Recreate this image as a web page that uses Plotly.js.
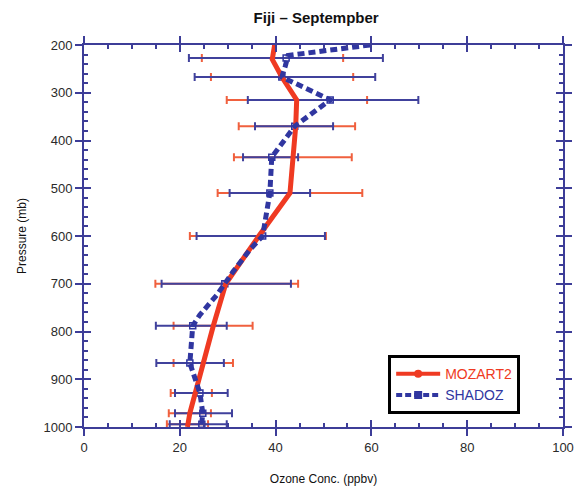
<!DOCTYPE html>
<html>
<head>
<meta charset="utf-8">
<script src="https://cdn.plot.ly/plotly-3.0.1.min.js"></script>
<style>
  html, body { margin: 0; padding: 0; background: #ffffff; }
  #chart { width: 579px; height: 496px; }
</style>
</head>
<body>
<div id="chart"></div>
<script>
// Ozone profiles over Fiji in September: model (MOZART2) vs sondes (SHADOZ)

// Continuous profiles (pressure in mb, ozone in ppbv)
const mozPressure = [200, 230, 267, 315, 370, 435, 510, 600, 700, 788, 866, 929, 971, 994, 1000];
const mozOzone    = [39.8, 39.3, 41.3, 44.4, 44.2, 43.6, 43.0, 36.5, 29.6, 27.0, 24.9, 23.1, 22.1, 21.7, 21.6];

const shaPressure = [200, 222, 245, 267, 315, 370, 435, 510, 600, 629, 675, 700, 724, 765, 788, 866, 916, 929, 971, 994, 1000];
const shaOzone    = [59.7, 42.6, 42.0, 41.3, 51.4, 44.0, 39.2, 38.8, 37.3, 34.6, 31.1, 29.4, 27.7, 24.2, 22.7, 22.1, 23.7, 24.2, 24.8, 24.6, 24.5];

// Levels carrying variability bars
const levels  = [227, 267, 315, 370, 435, 510, 600, 700, 788, 866, 929, 971, 994];
const mozMean = [39.5, 41.3, 44.4, 44.2, 43.6, 43.0, 36.5, 29.6, 27.0, 24.9, 23.1, 22.1, 21.7];
const mozLow  = [24.6, 26.5, 29.8, 32.3, 31.3, 27.9, 22.1, 14.9, 18.7, 18.7, 18.1, 17.7, 17.3];
const mozHigh = [54.1, 56.2, 59.1, 56.6, 55.9, 58.1, 50.5, 44.7, 35.2, 31.1, 26.7, 26.5, 25.9];
const shaMean = [42.2, 41.3, 51.4, 44.0, 39.2, 38.8, 37.3, 29.4, 22.7, 22.1, 24.2, 24.8, 24.6];
const shaLow  = [21.9, 23.1, 34.2, 35.7, 33.2, 30.4, 23.5, 16.2, 15.0, 15.1, 19.0, 19.0, 17.9];
const shaHigh = [62.4, 60.8, 69.8, 52.0, 44.7, 47.2, 50.3, 43.2, 29.8, 29.2, 30.0, 30.9, 29.8];

const tickVals = [0, 20, 40, 60, 80, 100];
const pressureTicks = [200, 300, 400, 500, 600, 700, 800, 900, 1000];

const RED = '#ef3a22';
const BLUE = '#3036a0';
const AXIS = '#3d3d98';
const FONT = 'Liberation Sans, Arial, sans-serif';

const plus  = (hi, c) => hi.map((v, i) => v - c[i]);
const minus = (lo, c) => lo.map((v, i) => c[i] - v);

const traces = [
  // legend entries (on the labelled base axes)
  {
    x: [null], y: [null], type: 'scatter', mode: 'lines+markers',
    name: '<span style="color:' + RED + '">MOZART2</span>',
    line: { color: RED, width: 4 }, marker: { symbol: 'circle', size: 8, color: RED }
  },
  {
    x: [null], y: [null], type: 'scatter', mode: 'lines+markers',
    name: '<span style="color:' + BLUE + '">SHADOZ</span>',
    line: { color: BLUE, width: 4, dash: '6px,3px' }, marker: { symbol: 'square', size: 8, color: BLUE }
  },
  {
    x: mozMean, y: levels, xaxis: 'x2', yaxis: 'y2',
    type: 'scatter', mode: 'markers', showlegend: false, hoverinfo: 'skip',
    marker: { symbol: 'circle', size: 4, color: RED },
    error_x: { type: 'data', symmetric: false,
      array: plus(mozHigh, mozMean), arrayminus: minus(mozLow, mozMean),
      color: '#f0603e', thickness: 2, width: 4 }
  },
  {
    x: shaMean, y: levels, xaxis: 'x2', yaxis: 'y2',
    type: 'scatter', mode: 'markers', showlegend: false, hoverinfo: 'skip',
    marker: { symbol: 'square-open', size: 6, color: BLUE, line: { width: 1.5, color: BLUE } },
    error_x: { type: 'data', symmetric: false,
      array: plus(shaHigh, shaMean), arrayminus: minus(shaLow, shaMean),
      color: '#40419c', thickness: 2, width: 4 }
  },
  {
    x: mozOzone, y: mozPressure, xaxis: 'x2', yaxis: 'y2',
    type: 'scatter', mode: 'lines', showlegend: false, hoverinfo: 'skip',
    line: { color: RED, width: 5 }
  },
  {
    x: shaOzone, y: shaPressure, xaxis: 'x2', yaxis: 'y2',
    type: 'scatter', mode: 'lines', showlegend: false, hoverinfo: 'skip',
    line: { color: BLUE, width: 5, dash: '7px,4px' }
  }
];

const baseX = {
  range: [0, 100], tickvals: tickVals, ticktext: tickVals.map(String),
  ticks: 'outside', ticklen: 7, tickwidth: 2, tickcolor: AXIS,
  showline: true, linecolor: AXIS, linewidth: 2, mirror: 'ticks',
  showgrid: false, zeroline: false, fixedrange: true,
  tickfont: { family: FONT, size: 13, color: '#2a2a2a' },
  title: { text: 'Ozone Conc. (ppbv)', font: { family: FONT, size: 12, color: '#111' }, standoff: 21 }
};
const baseY = {
  range: [1000, 200], tickvals: pressureTicks, ticktext: pressureTicks.map(String),
  ticks: 'outside', ticklen: 7, tickwidth: 2, tickcolor: AXIS,
  showline: true, linecolor: AXIS, linewidth: 2, mirror: 'ticks',
  showgrid: false, zeroline: false, fixedrange: true,
  tickfont: { family: FONT, size: 13, color: '#2a2a2a' },
  title: { text: 'Pressure (mb)', font: { family: FONT, size: 12, color: '#111' }, standoff: 14 }
};

const layout = {
  width: 579, height: 496,
  margin: { l: 84, r: 16, t: 45, b: 69 },
  paper_bgcolor: '#ffffff', plot_bgcolor: '#ffffff',
  title: {
    text: '<b>Fiji – Septempber</b>',
    font: { family: FONT, size: 15, color: '#111' },
    x: 0.546, xref: 'container', xanchor: 'center',
    y: 0.965, yref: 'container', yanchor: 'middle'
  },
  xaxis: baseX,
  yaxis: baseY,
  xaxis2: {
    overlaying: 'x', range: [0, 100], tickvals: tickVals, showticklabels: false,
    ticks: 'inside', ticklen: 7, tickwidth: 2, tickcolor: AXIS, mirror: 'ticks',
    showline: false, showgrid: false, zeroline: false, fixedrange: true,
    minor: { dtick: 5, ticks: 'inside', ticklen: 4, tickwidth: 2, tickcolor: AXIS, showgrid: false }
  },
  yaxis2: {
    overlaying: 'y', range: [1000, 200], tickvals: pressureTicks, showticklabels: false,
    ticks: 'inside', ticklen: 7, tickwidth: 2, tickcolor: AXIS, mirror: 'ticks',
    showline: false, showgrid: false, zeroline: false, fixedrange: true,
    minor: { dtick: 20, ticks: 'inside', ticklen: 4, tickwidth: 2, tickcolor: AXIS, showgrid: false }
  },
  showlegend: true,
  legend: {
    x: 0.635, y: 0.188, xanchor: 'left', yanchor: 'top',
    bgcolor: '#ffffff', bordercolor: '#000000', borderwidth: 3,
    font: { family: FONT, size: 14 },
    itemwidth: 44, tracegroupgap: 0
  }
};

Plotly.newPlot('chart', traces, layout, { displayModeBar: false, staticPlot: true });
</script>
</body>
</html>
